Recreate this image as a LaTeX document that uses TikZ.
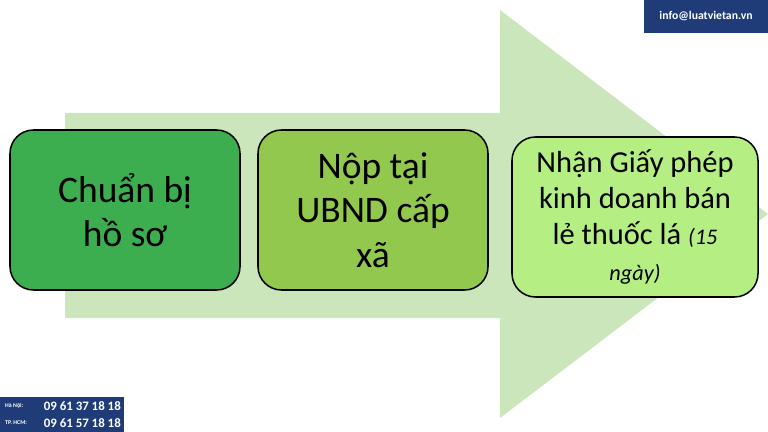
\documentclass[tikz,border=0pt]{standalone}
\usepackage{fontspec}
\setmainfont{Carlito}
\usetikzlibrary{positioning}
\definecolor{arrowgreen}{HTML}{CCE6BC}
\definecolor{stepone}{HTML}{3DAE4F}
\definecolor{steptwo}{HTML}{92C84E}
\definecolor{stepthree}{HTML}{B5EE82}
\definecolor{lvblue}{HTML}{1F3C78}
\tikzset{
  stepbox/.style={draw=black,line width=1.3pt,rounded corners=20,minimum height=160*0.03cm,
    align=center,font=\fontsize{32}{38}\selectfont,inner sep=2pt},
  infobox/.style={fill=lvblue,text=white,font=\bfseries,inner sep=0pt}
}
\begin{document}
\begin{tikzpicture}[x=0.03cm,y=-0.03cm]
    \useasboundingbox (0,0) rectangle (768,432);

    % big arrow
    \fill[arrowgreen] (65,113) -- (500,113) -- (500,10) -- (768,214) -- (500,418) -- (500,318) -- (65,318) -- cycle;

    % steps
    \node[stepbox,fill=stepone,minimum width=230*0.03cm] (s1) at (125,210) {Chuẩn bị\\hồ sơ};
    \node[stepbox,fill=steptwo,minimum width=230*0.03cm] (s2) at (373,210) {Nộp tại\\UBND cấp\\xã};
    \node[stepbox,fill=stepthree,minimum width=246*0.03cm,font=\fontsize{26}{31}\selectfont] (s3) at (635,217)
        {Nhận Giấy phép\\kinh doanh bán\\lẻ thuốc lá {\itshape\fontsize{19}{22}\selectfont(15}\\{\itshape\fontsize{19}{22}\selectfont ngày)}};

    % corner labels
    \fill[lvblue] (644,0) rectangle (768,33);
    \node[infobox,font=\bfseries\fontsize{10}{12}\selectfont] (mail) at (706,16) {info@luatvietan.vn};
    \fill[lvblue] (0,397) rectangle (124,432);
    \node[infobox,font=\bfseries\fontsize{5}{6}\selectfont,anchor=west] (hn) at (5,406) {Hà Nội:};
    \node[infobox,font=\bfseries\fontsize{5}{6}\selectfont,anchor=west] (hcm) at (5,423) {TP. HCM:};
    \node[infobox,font=\bfseries\fontsize{11}{12}\selectfont,anchor=east] (hnnum) at (121,406) {09 61 37 18 18};
    \node[infobox,font=\bfseries\fontsize{11}{12}\selectfont,anchor=east] (hcmnum) at (121,423) {09 61 57 18 18};
\end{tikzpicture}
\end{document}
